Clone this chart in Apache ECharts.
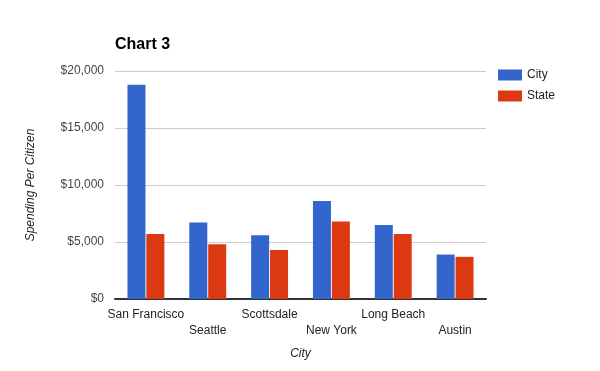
<!DOCTYPE html>
<html><head><meta charset="utf-8">
<script src="https://cdn.jsdelivr.net/npm/echarts@6/dist/echarts.min.js"></script>
<style>html,body{margin:0;padding:0;background:#fff}#c{width:600px;height:371px}</style>
</head><body><div id="c"></div>
<script>
const categories = ['San Francisco','Seattle','Scottsdale','New York','Long Beach','Austin'];
const cityValues = [18800, 6700, 5600, 8600, 6500, 3900];
const stateValues = [5700, 4800, 4300, 6800, 5700, 3700];
const seriesNames = ['City','State'];
const yTicks = [0, 5000, 10000, 15000, 20000];

const chart = echarts.init(document.getElementById('c'), null, {renderer:'canvas'});
const font = 'Arial, "Liberation Sans", sans-serif';
chart.setOption({
  animation:false,
  textStyle:{fontFamily:font},
  title:{text:'Chart 3', left:115, top:37, padding:0, textStyle:{fontFamily:font, fontSize:16, fontWeight:'bold', color:'#000'}},
  legend:{orient:'vertical', left:498, top:69, padding:0, itemWidth:24, itemHeight:11, itemGap:9, icon:'rect',
    textStyle:{fontFamily:font, fontSize:12, color:'#222'}, data:seriesNames},
  grid:{left:115, right:114, top:71, bottom:72},
  xAxis:{type:'category', data:categories, name:'City', nameLocation:'middle', nameGap:49,
    nameTextStyle:{fontFamily:font, fontStyle:'italic', fontSize:12, color:'#222'},
    axisLine:{lineStyle:{color:'#333', width:2}}, axisTick:{show:false},
    axisLabel:{interval:0, fontFamily:font, fontSize:12, color:'#222', margin:8, lineHeight:16,
      formatter:function(v,i){return (i%2===1)?'\n'+v:v;}}},
  yAxis:{type:'value', min:yTicks[0], max:yTicks[yTicks.length-1], interval:5000,
    name:'Spending Per Citizen', nameLocation:'middle', nameGap:78, nameRotate:90,
    nameTextStyle:{fontFamily:font, fontStyle:'italic', fontSize:12, color:'#222'},
    axisLine:{show:false}, axisTick:{show:false},
    splitLine:{lineStyle:{color:'#cccccc', width:1}},
    axisLabel:{fontFamily:font, fontSize:12, color:'#444', margin:11,
      formatter:function(v){return '$'+v.toLocaleString('en-US');}}},
  series:[
    {name:seriesNames[0], type:'bar', data:cityValues, barWidth:18, barGap:'5%', itemStyle:{color:'#3366cc'}},
    {name:seriesNames[1], type:'bar', data:stateValues, barWidth:18, itemStyle:{color:'#dc3912'}}
  ]
});
</script></body></html>
